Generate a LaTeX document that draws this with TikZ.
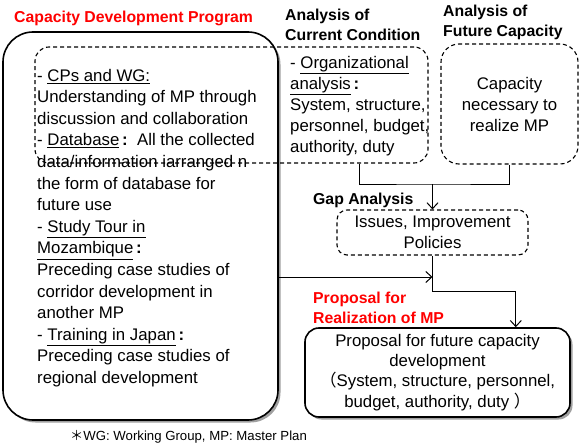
\documentclass[tikz,border=0pt]{standalone}
\usepackage{fontspec}
\setmainfont{Liberation Sans}
\newfontfamily\cjkfont{Noto Sans CJK JP}
\usepackage{tikz}
\usetikzlibrary{arrows.meta, positioning, calc, shadows}
\definecolor{titlered}{RGB}{255,0,0}
\definecolor{mydark}{RGB}{0,0,0}
\definecolor{myshadow}{RGB}{120,120,120}
\newcommand{\fcolon}{\,\textbf{:}\ }
\tikzset{
  solidbox/.style={rectangle, draw=mydark, fill=white, line width=1.6pt,
    rounded corners=14pt, inner sep=0pt,
    drop shadow={shadow xshift=2.5pt, shadow yshift=-2.5pt, fill=myshadow, opacity=0.7}},
  dashbox/.style={rectangle, draw=mydark, dash pattern=on 4pt off 3pt,
    line width=1.1pt, rounded corners=14pt, inner sep=0pt},
  bodytext/.style={align=left, inner sep=0pt, font=\fontsize{16.8}{21}\selectfont},
  boxtext/.style={align=center, inner sep=0pt, font=\fontsize{16.8}{21}\selectfont},
  hdrtext/.style={align=left, inner sep=0pt, font=\fontsize{15.8}{20}\selectfont\bfseries},
  redtext/.style={hdrtext, text=titlered},
  arrow/.style={-{Straight Barb[length=6pt,width=11pt]}, line width=1pt, color=mydark},
  line/.style={line width=1pt, color=mydark}
}

\begin{document}
\begin{tikzpicture}[x=1pt, y=1pt]
  \useasboundingbox (0,0) rectangle (579,-447);
  % capacity development program
  \node[redtext, anchor=west] (cdptitle) at (14,-18) {Capacity Development Program};
  \node[solidbox, rounded corners=30pt, minimum width=275pt, minimum height=388pt] (cdp) at (140.5,-226) {};
  \node[dashbox, minimum width=393pt, minimum height=116pt] (orgbox) at (231.5,-105) {};
  \node[bodytext, anchor=west, font=\fontsize{16.8}{21.6}\selectfont] (cdptext) at (37,-228)
    {- \underline{CPs and WG:}\\
     Understanding of MP through\\
     discussion and collaboration\\
     - \underline{Database}\fcolon\ All the collected\\
     data/information iarranged n\\
     the form of database for\\
     future use\\
     - \underline{Study Tour in}\\
     \underline{Mozambique}\fcolon\\
     Preceding case studies of\\
     corridor development in\\
     another MP\\
     - \underline{Training in Japan}\fcolon\\
     Preceding case studies of\\
     regional development};

  % current condition
  \node[hdrtext, anchor=west] (curtitle) at (285,-25) {Analysis of\\Current Condition};
  \node[bodytext, anchor=west] (orgtext) at (290,-106)
    {- \underline{Organizational}\\ \underline{analysis}\fcolon\\ System, structure,\\ personnel, budget,\\ authority, duty};

  % future capacity
  \node[hdrtext, anchor=west] (futtitle) at (443,-22) {Analysis of\\Future Capacity};
  \node[dashbox, rounded corners=18pt, minimum width=137pt, minimum height=120pt] (future) at (509.5,-104) {};
  \node[boxtext] (futtext) at (future) {Capacity\\necessary to\\realize MP};

  % gap analysis
  \node[dashbox, rounded corners=10pt, minimum width=191pt, minimum height=45pt] (issues) at (432.5,-232.5) {};
  \node[boxtext] (isstext) at (issues) {Issues, Improvement\\Policies};
  \node[hdrtext, anchor=west] (gaptitle) at (313,-200) {Gap Analysis};
  \coordinate (gapjoin) at (issues.north |- 0,-184);
  \draw[line] (orgbox.south -| orgtext.center) |- (gapjoin) -| (future.south);
  \draw[arrow] (gapjoin) -- (issues.north);

  % proposal
  \node[redtext, anchor=west] (proptitle) at (313,-308) {Proposal for\\Realization of MP};
  \node[solidbox, minimum width=265pt, minimum height=89pt] (proposal) at (437.5,-372.5) {};
  \node[boxtext, font=\fontsize{16.8}{20.3}\selectfont] (proptext) at (proposal)
    {Proposal for future capacity\\development\\{\cjkfont （}System, structure, personnel,\\budget, authority, duty {\cjkfont ）}};
  \coordinate (cdpjoin) at (issues.south |- 0,-277);
  \coordinate (propin) at ($(proposal.north east)+(-55,0)$);
  \draw[arrow] (cdp.east |- cdpjoin) -- (cdpjoin);
  \draw[arrow] (issues.south) -- ++(0,-36) -| (propin);

  \node[anchor=west, inner sep=0pt, font=\fontsize{13.2}{16}\selectfont] (note) at (70,-437)
    {{\cjkfont ＊}WG: Working Group, MP: Master Plan};
\end{tikzpicture}
\end{document}
